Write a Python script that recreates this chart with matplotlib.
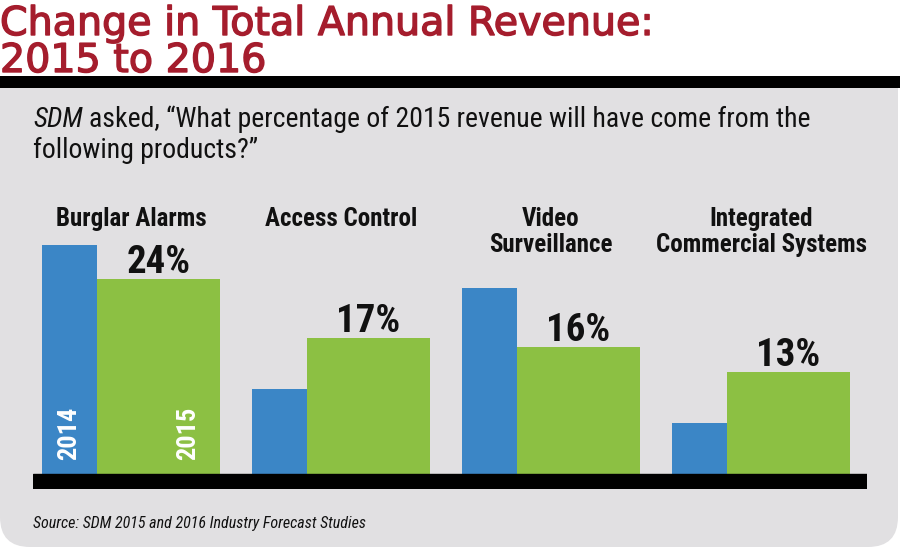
import matplotlib
matplotlib.use("Agg")
import matplotlib.pyplot as plt
import matplotlib.patheffects as pe
import numpy as np
from matplotlib import font_manager as fm
from matplotlib.patches import FancyBboxPatch, Rectangle

# ── data ──────────────────────────────────────────────────────────────
CATEGORIES = ["Burglar Alarms", "Access Control", "Video\nSurveillance",
              "Integrated\nCommercial Systems"]
REV_2014 = [28, 11, 23, 7]
REV_2015 = [24, 17, 16, 13]
YEARS = ["2014", "2015"]

TITLE = ["Change in Total Annual Revenue:", "2015 to 2016"]
QUESTION = ["asked, \u201cWhat percentage of 2015 revenue will have come from the",
            "following products?\u201d"]
SOURCE = "Source: SDM 2015 and 2016 Industry Forecast Studies"

RED = "#a51d2d"
BLUE = "#3b86c6"
GREEN = "#8cc043"
PANEL = "#e1e0e2"
INK = "#111111"

_names = {f.name for f in fm.fontManager.ttflist}


def pick(*cands):
    for c in cands:
        if c in _names:
            return c
    return "DejaVu Sans"


NARROW = pick("Liberation Sans Narrow", "DejaVu Sans Condensed", "Roboto Condensed")

fig = plt.figure(figsize=(9, 5.5), dpi=100)
bg = fig.add_axes([0, 0, 1, 1])
bg.set_xlim(0, 900)
bg.set_ylim(550, 0)
bg.axis("off")

# panel + title rule
bg.add_patch(FancyBboxPatch((0, 88), 898, 459, boxstyle="round,pad=0,rounding_size=30",
                            fc=PANEL, ec="none"))
bg.add_patch(Rectangle((0, 88), 898, 120, fc=PANEL, ec="none"))
bg.add_patch(Rectangle((0, 76), 900, 12, fc="black", ec="none"))

heavier = [pe.withStroke(linewidth=1.0, foreground=RED)]
bg.text(0, 35, TITLE[0], color=RED, fontsize=28.5, family="DejaVu Sans", va="baseline",
        path_effects=heavier)
bg.text(0, 72, TITLE[1], color=RED, fontsize=28.5, family="DejaVu Sans", va="baseline",
        path_effects=heavier)

renderer = fig.canvas.get_renderer()
sdm = bg.text(33, 127, "SDM", fontsize=20, family=NARROW, fontstretch="condensed",
              style="italic", color=INK, va="baseline")
x1 = sdm.get_window_extent(renderer).x1
bg.text(x1 + 6, 127, QUESTION[0], fontsize=20, family=NARROW, fontstretch="condensed",
        color=INK, va="baseline", transform=matplotlib.transforms.blended_transform_factory(
            matplotlib.transforms.IdentityTransform(), bg.transData))
bg.text(33, 158, QUESTION[1], fontsize=20, family=NARROW, fontstretch="condensed",
        color=INK, va="baseline")

bg.text(33, 528, SOURCE, fontsize=11.5, family=NARROW, fontstretch="condensed",
        style="italic", color=INK, va="baseline")

# ── bars ──────────────────────────────────────────────────────────────
PX_PER_PCT = 8.45
BASE_PX = 482
ax = fig.add_axes([33 / 900, (550 - 489) / 550, 834 / 900, (489 - 200) / 550])
ax.set_xlim(-9 / 210, 825 / 210)
ax.set_ylim((BASE_PX - 489) / PX_PER_PCT, (BASE_PX - 200) / PX_PER_PCT)
ax.axis("off")

x = np.arange(len(CATEGORIES))
w_blue = 55 / 210
w_green = 123 / 210
ax.bar(x, REV_2014, width=w_blue, align="edge", color=BLUE, zorder=2)
ax.bar(x + w_blue, REV_2015, width=w_green, align="edge", color=GREEN, zorder=2)
ax.axhspan((BASE_PX - 489) / PX_PER_PCT, (BASE_PX - 474) / PX_PER_PCT,
           color="black", zorder=3)

for xi, v in zip(x, REV_2015):
    ax.text(xi + w_blue + w_green / 2, v + 0.7, f"{v}%", ha="center", va="baseline",
            fontsize=28, fontweight="bold", family=NARROW, fontstretch="condensed",
            color=INK)

for xi, lab in zip(x, CATEGORIES):
    ax.text(xi + (w_blue + w_green) / 2, (BASE_PX - 207) / PX_PER_PCT, lab,
            ha="center", va="top", fontsize=18, fontweight="bold", family=NARROW,
            fontstretch="condensed", color=INK, linespacing=1.1)

ax.text(x[0] + w_blue / 2, 2.6, YEARS[0], rotation=90, ha="center", va="bottom",
        fontsize=19, fontweight="bold", family=NARROW, fontstretch="condensed",
        color="white", zorder=4)
ax.text(x[0] + w_blue + w_green * 0.74, 2.6, YEARS[1], rotation=90, ha="center",
        va="bottom", fontsize=19, fontweight="bold", family=NARROW,
        fontstretch="condensed", color="white", zorder=4)

fig.savefig("out.png", dpi=100)
